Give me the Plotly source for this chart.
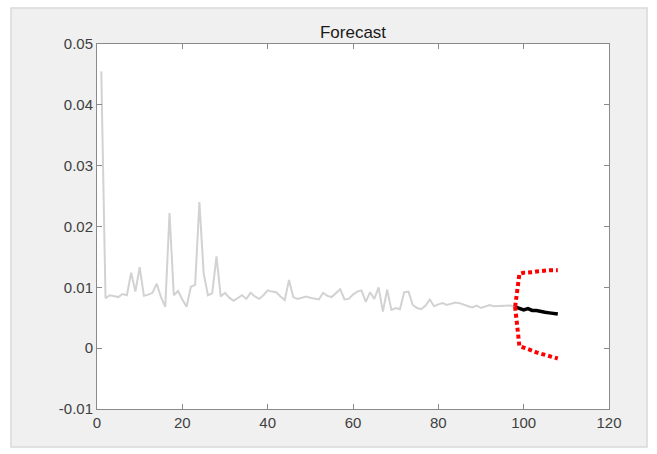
import plotly.graph_objects as go

# Observed series (steps 1..98)
obs_x = list(range(1, 99))
obs_y = [
    0.0455, 0.0082, 0.0087, 0.0086, 0.0084, 0.0089, 0.0087, 0.0124, 0.0093, 0.0133,
    0.0086, 0.0088, 0.0091, 0.0106, 0.0084, 0.0068, 0.0222, 0.0087, 0.0094, 0.0080,
    0.0068, 0.0101, 0.0104, 0.0240, 0.0123, 0.0087, 0.0090, 0.0151, 0.0085, 0.0091,
    0.0083, 0.0078, 0.0083, 0.0087, 0.0081, 0.0091, 0.0085, 0.0081, 0.0087, 0.0095,
    0.0093, 0.0092, 0.0085, 0.0079, 0.0112, 0.0084, 0.0081, 0.0083, 0.0085, 0.0083,
    0.0081, 0.0080, 0.0091, 0.0086, 0.0084, 0.0091, 0.0097, 0.0080, 0.0081, 0.0088,
    0.0093, 0.0095, 0.0076, 0.0092, 0.0081, 0.0100, 0.0060, 0.0096, 0.0063, 0.0066,
    0.0064, 0.0092, 0.0093, 0.0071, 0.0066, 0.0064, 0.0070, 0.0080, 0.0069, 0.0072,
    0.0074, 0.0071, 0.0073, 0.0075, 0.0074, 0.0071, 0.0069, 0.0067, 0.0070, 0.0066,
    0.0069, 0.0071, 0.0069, 0.0069, 0.0070, 0.0069, 0.0070, 0.0068,
]

# Forecast horizon with confidence bounds
fc_x = list(range(98, 109))
fc_mean = [0.0068, 0.0065, 0.0063, 0.0065, 0.0062, 0.0062, 0.0060, 0.0059, 0.0058, 0.0057, 0.0056]
fc_upper = [0.0068, 0.0122, 0.0124, 0.0124, 0.0125, 0.0126, 0.0127, 0.0127, 0.0128, 0.0128, 0.0128]
fc_lower = [0.0068, 0.0003, 0.0001, -0.0001, -0.0004, -0.0007, -0.0009, -0.0011, -0.0013, -0.0015, -0.0017]

x_ticks = [0, 20, 40, 60, 80, 100, 120]
y_ticks = [-0.01, 0, 0.01, 0.02, 0.03, 0.04, 0.05]
y_tick_text = ["-0.01", "0", "0.01", "0.02", "0.03", "0.04", "0.05"]

fig = go.Figure()
fig.add_trace(go.Scatter(x=obs_x, y=obs_y, mode="lines",
                         line=dict(color="#d2d2d2", width=2), showlegend=False))
fig.add_trace(go.Scatter(x=fc_x, y=fc_mean, mode="lines",
                         line=dict(color="black", width=3.5), showlegend=False))
for bound in (fc_upper, fc_lower):
    fig.add_trace(go.Scatter(x=fc_x, y=bound, mode="lines",
                             line=dict(color="#ff0000", width=4, dash="4px,3px"),
                             showlegend=False))

axis_common = dict(
    showgrid=False, zeroline=False, showline=True, linecolor="#8a8a8a", linewidth=1,
    mirror="ticks", ticks="inside", ticklen=5, tickcolor="#8a8a8a", tickwidth=1,
    tickfont=dict(family="Liberation Sans, Arial, sans-serif", size=15, color="#404040"),
)

# figure window frame, then white axes area on top of it
W, H = 657, 454
L, R, T, B = 97, 48, 44, 45
pw, ph = W - L - R, H - T - B
def px(xp):
    return (xp - L) / pw
def py(yp):
    return (H - B - yp) / ph

fig.update_layout(
    width=W, height=H,
    margin=dict(l=L, r=R, t=T, b=B),
    paper_bgcolor="white",
    plot_bgcolor="white",
    title=dict(text="Forecast", x=(L + pw / 2) / W, xanchor="center",
               y=1 - 32 / H, yanchor="middle", yref="container",
               font=dict(family="Liberation Sans, Arial, sans-serif", size=17, color="#1a1a1a")),
    xaxis=dict(range=[0, 120], tickvals=x_ticks, **axis_common),
    yaxis=dict(range=[-0.01, 0.05], tickvals=y_ticks, ticktext=y_tick_text, **axis_common),
    shapes=[
        dict(type="rect", xref="paper", yref="paper", layer="below",
             x0=px(11), x1=px(647), y0=py(447), y1=py(8),
             fillcolor="#f0f0f0", line=dict(color="#d9d9d9", width=1.5)),
        dict(type="rect", xref="paper", yref="paper", layer="below",
             x0=0, x1=1, y0=0, y1=1, fillcolor="white", line=dict(width=0)),
    ],
)

fig.write_html("out.html")
